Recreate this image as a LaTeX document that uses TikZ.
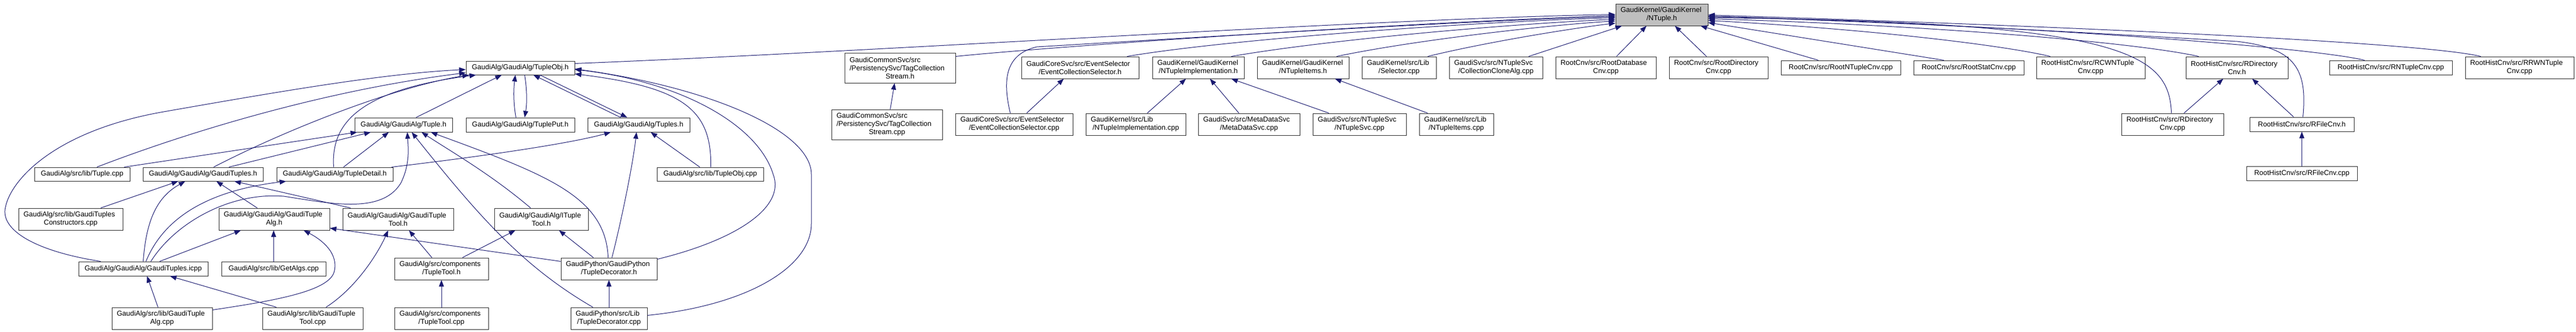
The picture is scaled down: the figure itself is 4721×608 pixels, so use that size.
\documentclass[tikz,border=0pt]{standalone}
\usepackage{fontspec}
\setmainfont{Liberation Sans}
\usetikzlibrary{arrows.meta}
\definecolor{edgec}{RGB}{25,25,112}
\definecolor{boxc}{RGB}{40,40,40}
\definecolor{graynode}{RGB}{191,191,191}
\newcommand\mlb[2]{\raggedright #1\par\centering #2\par}
\begin{document}
\begin{tikzpicture}[x=1pt,y=-1pt,
  box/.style={draw=boxc, line width=1pt, fill=white, inner xsep=2pt, inner ysep=1pt,
    font=\fontsize{13}{15}\selectfont, align=center},
  mbox/.style={box, inner xsep=9pt, align=flush left},
  dep/.style={draw=edgec, line width=1pt, -{Triangle[length=12pt,width=9pt]}}]
\fill[white] (0,0) rectangle (4721,608);
\useasboundingbox (0,0) rectangle (4721,608);

% ---------- left cluster nodes ----------
\node[box,minimum width=199pt,minimum height=25pt] (TOH) at (953.5,124.5) {GaudiAlg/GaudiAlg/TupleObj.h};
\node[box,minimum width=179pt,minimum height=26pt] (TH) at (739.5,229) {GaudiAlg/GaudiAlg/Tuple.h};
\node[box,minimum width=199pt,minimum height=26pt] (TPH) at (953.5,229) {GaudiAlg/GaudiAlg/TuplePut.h};
\node[box,minimum width=187pt,minimum height=26pt] (TSH) at (1170.5,229) {GaudiAlg/GaudiAlg/Tuples.h};
\node[box,minimum width=175pt,minimum height=25pt] (TCPP) at (150.5,319.5) {GaudiAlg/src/lib/Tuple.cpp};
\node[box,minimum width=220pt,minimum height=25pt] (GTSH) at (372,319.5) {GaudiAlg/GaudiAlg/GaudiTuples.h};
\node[box,minimum width=213pt,minimum height=25pt] (TDH) at (613.5,319.5) {GaudiAlg/GaudiAlg/TupleDetail.h};
\node[box,minimum width=195pt,minimum height=25pt] (TOCPP) at (1301.5,319.5) {GaudiAlg/src/lib/TupleObj.cpp};
\node[mbox,minimum width=191pt,minimum height=40pt,text width=173pt] (GTC) at (129.5,402) {\mlb{GaudiAlg/src/lib/GaudiTuples}{Constructors.cpp}};
\node[mbox,minimum width=203pt,minimum height=40pt,text width=185pt] (GTAH) at (502.5,402) {\mlb{GaudiAlg/GaudiAlg/GaudiTuple}{Alg.h}};
\node[mbox,minimum width=203pt,minimum height=40pt,text width=185pt] (GTTH) at (729.5,402) {\mlb{GaudiAlg/GaudiAlg/GaudiTuple}{Tool.h}};
\node[mbox,minimum width=172pt,minimum height=40pt,text width=154pt] (ITTH) at (992,402) {\mlb{GaudiAlg/GaudiAlg/ITuple}{Tool.h}};
\node[box,minimum width=237pt,minimum height=26pt] (ICPP) at (262.5,493) {GaudiAlg/GaudiAlg/GaudiTuples.icpp};
\node[box,minimum width=191pt,minimum height=26pt] (GA) at (501.5,493) {GaudiAlg/src/lib/GetAlgs.cpp};
\node[mbox,minimum width=172pt,minimum height=40pt,text width=154pt] (TTH) at (809,493) {\mlb{GaudiAlg/src/components}{/TupleTool.h}};
\node[mbox,minimum width=176pt,minimum height=40pt,text width=158pt] (TDEH) at (1116,493) {\mlb{GaudiPython/GaudiPython}{/TupleDecorator.h}};
\node[mbox,minimum width=184pt,minimum height=40pt,text width=166pt] (GTACPP) at (297,584) {\mlb{GaudiAlg/src/lib/GaudiTuple}{Alg.cpp}};
\node[mbox,minimum width=184pt,minimum height=40pt,text width=166pt] (GTTCPP) at (573,584) {\mlb{GaudiAlg/src/lib/GaudiTuple}{Tool.cpp}};
\node[mbox,minimum width=172pt,minimum height=40pt,text width=154pt] (TTCPP) at (809,584) {\mlb{GaudiAlg/src/components}{/TupleTool.cpp}};
\node[mbox,minimum width=140pt,minimum height=40pt,text width=122pt] (TDECPP) at (1116,584) {\mlb{GaudiPython/src/Lib}{/TupleDecorator.cpp}};

% ---------- right cluster nodes ----------
\node[mbox,fill=graynode,minimum width=169pt,minimum height=40pt,text width=151pt] (NT) at (3045.5,27) {\mlb{GaudiKernel/GaudiKernel}{/NTuple.h}};
\node[mbox,minimum width=203pt,minimum height=55pt,text width=185pt] (TCSH) at (1649.5,124.5) {\mlb{GaudiCommonSvc/src\\/PersistencySvc/TagCollection}{Stream.h}};
\node[mbox,minimum width=203pt,minimum height=55pt,text width=185pt] (TCSCPP) at (1625.5,228.5) {\mlb{GaudiCommonSvc/src\\/PersistencySvc/TagCollection}{Stream.cpp}};
\node[mbox,minimum width=215pt,minimum height=40pt,text width=197pt] (ECSH) at (1979.5,124) {\mlb{GaudiCoreSvc/src/EventSelector}{/EventCollectionSelector.h}};
\node[mbox,minimum width=215pt,minimum height=40pt,text width=197pt] (ECSCPP) at (1858.5,228) {\mlb{GaudiCoreSvc/src/EventSelector}{/EventCollectionSelector.cpp}};
\node[mbox,minimum width=168pt,minimum height=40pt,text width=150pt] (NTIH) at (2196,124) {\mlb{GaudiKernel/GaudiKernel}{/NTupleImplementation.h}};
\node[mbox,minimum width=183pt,minimum height=40pt,text width=165pt] (NTICPP) at (2081.5,228) {\mlb{GaudiKernel/src/Lib}{/NTupleImplementation.cpp}};
\node[mbox,minimum width=186pt,minimum height=40pt,text width=168pt] (MDS) at (2289,228) {\mlb{GaudiSvc/src/MetaDataSvc}{/MetaDataSvc.cpp}};
\node[mbox,minimum width=168pt,minimum height=40pt,text width=150pt] (NTITH) at (2388,124) {\mlb{GaudiKernel/GaudiKernel}{/NTupleItems.h}};
\node[mbox,minimum width=171pt,minimum height=40pt,text width=153pt] (NTSVC) at (2491.5,228) {\mlb{GaudiSvc/src/NTupleSvc}{/NTupleSvc.cpp}};
\node[mbox,minimum width=136pt,minimum height=40pt,text width=118pt] (NTITCPP) at (2669,228) {\mlb{GaudiKernel/src/Lib}{/NTupleItems.cpp}};
\node[mbox,minimum width=136pt,minimum height=40pt,text width=118pt] (SEL) at (2564,124) {\mlb{GaudiKernel/src/Lib}{/Selector.cpp}};
\node[mbox,minimum width=171pt,minimum height=40pt,text width=153pt] (CCA) at (2741.5,124) {\mlb{GaudiSvc/src/NTupleSvc}{/CollectionCloneAlg.cpp}};
\node[mbox,minimum width=184pt,minimum height=40pt,text width=166pt] (RDB) at (2943,124) {\mlb{RootCnv/src/RootDatabase}{Cnv.cpp}};
\node[mbox,minimum width=181pt,minimum height=40pt,text width=163pt] (RDIR) at (3149.5,124) {\mlb{RootCnv/src/RootDirectory}{Cnv.cpp}};
\node[box,minimum width=219pt,minimum height=26pt] (RNT) at (3373.5,124) {RootCnv/src/RootNTupleCnv.cpp};
\node[box,minimum width=202pt,minimum height=26pt] (RSTAT) at (3608,124) {RootCnv/src/RootStatCnv.cpp};
\node[mbox,minimum width=199pt,minimum height=40pt,text width=181pt] (RCWN) at (3831.5,124) {\mlb{RootHistCnv/src/RCWNTuple}{Cnv.cpp}};
\node[mbox,minimum width=187pt,minimum height=40pt,text width=169pt] (RDH) at (4099.5,124) {\mlb{RootHistCnv/src/RDirectory}{Cnv.h}};
\node[mbox,minimum width=187pt,minimum height=40pt,text width=169pt] (RDCPP) at (3981.5,228) {\mlb{RootHistCnv/src/RDirectory}{Cnv.cpp}};
\node[box,minimum width=191pt,minimum height=26pt] (RFH) at (4218.5,228) {RootHistCnv/src/RFileCnv.h};
\node[box,minimum width=203pt,minimum height=26pt] (RFCPP) at (4218.5,318) {RootHistCnv/src/RFileCnv.cpp};
\node[box,minimum width=225pt,minimum height=26pt] (RNTC) at (4381.5,124) {RootHistCnv/src/RNTupleCnv.cpp};
\node[mbox,minimum width=199pt,minimum height=40pt,text width=181pt] (RRWN) at (4617.5,124) {\mlb{RootHistCnv/src/RRWNTuple}{Cnv.cpp}};

% ---------- edges into NTuple.h ----------
\draw[dep] ([yshift=-5pt]TOH.north east) .. controls (1600,95) and (2500,35) .. ([yshift=-20pt]NT.north west);
\draw[dep] ([yshift=-7pt]TCSH.north east) .. controls (1900,88) and (2500,45) .. ([yshift=-22pt]NT.north west);
\draw[dep] ([xshift=101pt]ECSCPP.north west) .. controls (1838,150) and (1840,100) .. (1900,86) .. controls (2300,62) and (2700,38) .. ([yshift=-24pt]NT.north west);
\draw[dep] ([xshift=194pt]ECSH.north west) .. controls (2250,72) and (2700,40) .. ([yshift=-26pt]NT.north west);
\draw[dep] ([xshift=145pt]NTIH.north west) .. controls (2450,70) and (2800,42) .. ([yshift=-29pt]NT.north west);
\draw[dep] ([xshift=146pt]NTITH.north west) .. controls (2600,72) and (2850,45) .. ([yshift=-32pt]NT.north west);
\draw[dep] ([xshift=121pt]SEL.north west) .. controls (2720,78) and (2880,52) .. ([yshift=-36pt]NT.north west);
\draw[dep] ([xshift=146pt]CCA.north west) -- ([xshift=12pt]NT.south west);
\draw[dep] ([xshift=112pt]RDB.north west) -- ([xshift=57pt]NT.south west);
\draw[dep] ([xshift=69pt]RDIR.north west) -- ([xshift=109pt]NT.south west);
\draw[dep] ([xshift=69pt]RNT.north west) -- ([xshift=156pt]NT.south west);
\draw[dep] ([xshift=56pt]RSTAT.north west) -- ([yshift=-35pt]NT.north east);
\draw[dep] ([xshift=26pt]RCWN.north west) .. controls (3680,85) and (3450,55) .. ([yshift=-31pt]NT.north east);
\draw[dep] ([xshift=24pt]RDH.north west) .. controls (3900,75) and (3500,45) .. ([yshift=-28pt]NT.north east);
\draw[dep] ([xshift=92pt]RDCPP.north west) .. controls (3975,100) and (3900,40) .. ([yshift=-26pt]NT.north east);
\draw[dep] ([xshift=98pt]RFH.north west) .. controls (4230,120) and (4200,88) .. (4100,76) .. controls (3700,52) and (3400,38) .. ([yshift=-24pt]NT.north east);
\draw[dep] ([xshift=65pt]RNTC.north west) .. controls (4250,90) and (3800,50) .. ([yshift=-23pt]NT.north east);
\draw[dep] ([xshift=29pt]RRWN.north west) .. controls (4450,80) and (3900,52) .. ([yshift=-21pt]NT.north east);

% ---------- other right edges ----------
\draw[dep] ([xshift=108pt]TCSCPP.north west) -- ([xshift=92pt]TCSH.south west);
\draw[dep] ([xshift=131pt]ECSCPP.north west) -- ([xshift=78pt]ECSH.south west);
\draw[dep] ([xshift=113pt]NTICPP.north west) -- ([xshift=62pt]NTIH.south west);
\draw[dep] ([xshift=75pt]MDS.north west) -- ([xshift=106pt]NTIH.south west);
\draw[dep] ([xshift=30pt]NTSVC.north west) -- ([xshift=145pt]NTIH.south west);
\draw[dep] ([xshift=16pt]NTITCPP.north west) -- ([xshift=143pt]NTITH.south west);
\draw[dep] ([xshift=115pt]RDCPP.north west) -- ([xshift=69pt]RDH.south west);
\draw[dep] ([xshift=81pt]RFH.north west) -- ([xshift=122pt]RDH.south west);
\draw[dep] (RFCPP.north) -- (RFH.south);

% ---------- left cluster edges ----------
\draw[dep] ([xshift=113pt]TH.north west) -- ([xshift=66pt]TOH.south west);
\draw[dep] ([xshift=92pt]TPH.north west) .. controls (941,190) and (941,165) .. ([xshift=91pt]TOH.south west);
\draw[dep] ([xshift=108pt]TOH.south west) .. controls (966,165) and (966,190) .. ([xshift=108pt]TPH.north west);
\draw[dep] ([xshift=61pt]TSH.north west) -- ([xshift=124pt]TOH.south west);
\draw[dep] ([xshift=136pt]TOH.south west) -- ([xshift=73pt]TSH.north west);
\draw[dep] ([xshift=115pt]TCPP.north west) .. controls (350,240) and (600,165) .. ([yshift=-22pt]TOH.north west);
\draw[dep] ([xshift=130pt]GTSH.north west) .. controls (520,240) and (720,160) .. ([xshift=6pt]TOH.south west);
\draw[dep] ([xshift=105pt]TDH.north west) .. controls (606,225) and (660,165) .. ([xshift=19pt]TOH.south west);
\draw[dep] ([xshift=41pt]ICPP.north west) .. controls (60,460) and (0,420) .. (10,380) .. controls (20,330) and (100,240) .. (300,205) .. controls (500,170) and (700,135) .. ([yshift=-16pt]TOH.north west);
\draw[dep] ([xshift=99pt]TOCPP.north west) .. controls (1305,200) and (1250,160) .. ([yshift=-24pt]TOH.north east);
\draw[dep] ([yshift=-3pt]TDEH.north east) .. controls (1350,440) and (1440,380) .. (1417,320) .. controls (1390,230) and (1250,150) .. ([yshift=-16pt]TOH.north east);
\draw[dep] ([yshift=-15pt]TDECPP.north east) .. controls (1370,560) and (1487,490) .. (1487,410) -- (1487,320) .. controls (1487,240) and (1300,160) .. ([yshift=-15pt]TOH.north east);
\draw[dep] ([xshift=165pt]TCPP.north west) -- ([xshift=5pt]TH.south west);
\draw[dep] ([xshift=158pt]GTSH.north west) -- ([xshift=30pt]TH.south west);
\draw[dep] ([xshift=123pt]TDH.north west) -- ([xshift=63pt]TH.south west);
\draw[dep] ([xshift=133pt]ICPP.north west) .. controls (320,410) and (420,352) .. (520,360) .. controls (600,372) and (700,395) .. (735,335) .. controls (752,300) and (748,270) .. ([xshift=97pt]TH.south west);
\draw[dep] ([xshift=67pt]ITTH.north west) .. controls (900,320) and (830,280) .. ([xshift=123pt]TH.south west);
\draw[dep] ([xshift=87pt]TDEH.north west) .. controls (1110,360) and (1000,320) .. ([xshift=140pt]TH.south west);
\draw[dep] ([xshift=41pt]TDECPP.north west) .. controls (960,490) and (880,400) .. ([xshift=105pt]TH.south west);
\draw[dep] ([xshift=-3pt]TDH.north east) .. controls (900,285) and (1050,262) .. ([xshift=43pt]TSH.south west);
\draw[dep] ([xshift=79pt]TOCPP.north west) -- ([xshift=116pt]TSH.south west);
\draw[dep] ([xshift=94pt]TDEH.north west) .. controls (1140,400) and (1160,300) .. ([xshift=90pt]TSH.south west);
\draw[dep] ([xshift=151pt]GTC.north west) -- ([xshift=65pt]GTSH.south west);
\draw[dep] ([xshift=119pt]ICPP.north west) .. controls (268,400) and (290,360) .. ([xshift=78pt]GTSH.south west);
\draw[dep] ([xshift=71pt]GTAH.north west) -- ([xshift=135pt]GTSH.south west);
\draw[dep] ([xshift=15pt]GTTH.north west) -- ([xshift=168pt]GTSH.south west);
\draw[dep] ([xshift=124pt]ICPP.north west) .. controls (300,400) and (380,350) .. ([xshift=18pt]TDH.south west);
\draw[dep] ([xshift=149pt]ICPP.north west) -- ([xshift=41pt]GTAH.south west);
\draw[dep] ([xshift=96pt]GA.north west) -- ([xshift=101pt]GTAH.south west);
\draw[dep] ([yshift=-5pt]GTACPP.north east) .. controls (500,552) and (600,535) .. (612,500) .. controls (622,465) and (590,440) .. ([xshift=156pt]GTAH.south west);
\draw[dep] ([xshift=85pt]GTACPP.north west) -- ([xshift=126pt]ICPP.south west);
\draw[dep] ([xshift=26pt]GTTCPP.north west) -- ([xshift=168pt]ICPP.south west);
\draw[dep] ([xshift=117pt]GTTCPP.north west) .. controls (650,530) and (690,470) .. ([xshift=84pt]GTTH.south west);
\draw[dep] ([xshift=69pt]TTH.north west) -- ([xshift=122pt]GTTH.south west);
\draw[dep] ([xshift=125pt]TTH.north west) -- ([xshift=39pt]ITTH.south west);
\draw[dep] (TTCPP.north) -- (TTH.south);
\draw[dep] ([yshift=-7pt]TDEH.north west) -- ([yshift=-37pt]GTAH.north east);
\draw[dep] ([xshift=60pt]TDEH.north west) -- ([xshift=119pt]ITTH.south west);
\draw[dep] (TDECPP.north) -- (TDEH.south);
\end{tikzpicture}
\end{document}
